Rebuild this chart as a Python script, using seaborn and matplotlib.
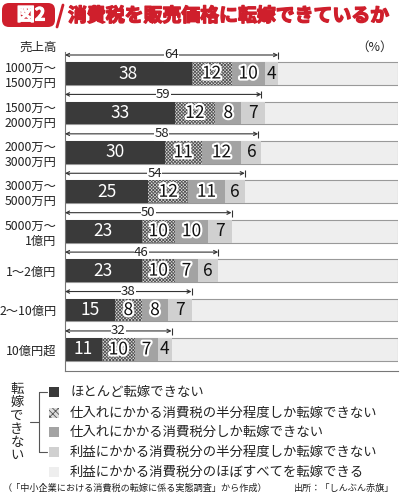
import numpy as np
import pandas as pd
import matplotlib
matplotlib.use('Agg')
import matplotlib.pyplot as plt
import matplotlib.patheffects as pe
from matplotlib.patches import Rectangle, FancyBboxPatch
from matplotlib.lines import Line2D
from matplotlib.transforms import IdentityTransform
import seaborn as sns

sales = ['1000万～\n1500万円', '1500万～\n2000万円', '2000万～\n3000万円',
         '3000万～\n5000万円', '5000万～\n1億円', '1～2億円', '2～10億円', '10億円超']
almost_none = [38, 33, 30, 25, 23, 23, 15, 11]
half_purchase = [12, 12, 11, 12, 10, 10, 8, 10]
purchase_only = [10, 8, 12, 11, 10, 7, 8, 7]
half_profit = [4, 7, 6, 6, 7, 6, 7, 4]
all_passed = [36, 40, 41, 46, 50, 54, 62, 68]
cannot_total = [64, 59, 58, 54, 50, 46, 38, 32]
legend_labels = ['ほとんど転嫁できない',
                 '仕入れにかかる消費税の半分程度しか転嫁できない',
                 '仕入れにかかる消費税分しか転嫁できない',
                 '利益にかかる消費税分の半分程度しか転嫁できない',
                 '利益にかかる消費税分のほぼすべてを転嫁できる']

colors = ['#3a3a3a', '#dcdcdc', '#a3a3a3', '#d0d0d0', '#eeeeee']
red = '#cf1f2c'

sns.set_theme(style='white')
plt.rcParams['font.family'] = ['Noto Sans CJK JP', 'DejaVu Sans']
plt.rcParams['hatch.linewidth'] = 0.6

W, H = 400, 503
fig = plt.figure(figsize=(W / 100, H / 100), dpi=100)
ax = fig.add_axes([65 / W, 1 - 371 / H, 333 / W, 319 / H])

layers = np.array([almost_none, half_purchase, purchase_only, half_profit, all_passed])
cum = np.cumsum(layers, axis=0)
df = pd.DataFrame({'sales': sales})
for k in range(4, -1, -1):
    df['cum'] = cum[k]
    sns.barplot(data=df, x='cum', y='sales', orient='h', color=colors[k],
                saturation=1, width=0.58, ax=ax,
                edgecolor='#999999' if k == 4 else colors[k],
                linewidth=0.8 if k == 4 else 0)
    if k == 1:
        for p in ax.containers[-1]:
            p.set_hatch('xxxxxxxxxx')
            p.set_edgecolor('#555555')
            p.set_linewidth(0)

# values inside segments
for k in range(4):
    for i, v in enumerate(layers[k]):
        x = cum[k][i] - v / 2
        if k == 0:
            ax.text(x, i, str(v), ha='center', va='center', color='white', fontsize=12.5)
        else:
            t = ax.text(x, i, str(v), ha='center', va='center', color='#111111', fontsize=12.5)
            if k in (1, 2):
                t.set_path_effects([pe.withStroke(linewidth=3, foreground='white')])

# total brackets above bars
for i, tot in enumerate(cannot_total):
    yb = i - 0.47
    ax.annotate('', xy=(0, yb), xytext=(tot, yb),
                arrowprops=dict(arrowstyle='<->', lw=0.8, color='#333333',
                                shrinkA=0, shrinkB=0, mutation_scale=6))
    ax.vlines([tot], yb - 0.08, yb + 0.1, color='#333333', lw=0.8)
    ax.text(tot / 2, yb, str(tot), ha='center', va='center', fontsize=9.5,
            color='#222222', bbox=dict(facecolor='white', edgecolor='none', pad=0.2))

ax.set_xlim(0, 100)
ax.set_ylim(7.546, -0.546)
ax.set_xticks([])
ax.set_xlabel('')
ax.set_ylabel('')
ax.tick_params(axis='y', length=0, pad=6, labelsize=8.8, colors='#222222')
for s in ['top', 'right']:
    ax.spines[s].set_visible(False)
for s in ['left', 'bottom']:
    ax.spines[s].set_color('#777777')
    ax.spines[s].set_linewidth(0.8)

fig.text(57 / W, 1 - 47 / H, '売上高', ha='right', va='center', fontsize=9)
fig.text(393 / W, 1 - 47 / H, '（%）', ha='right', va='center', fontsize=9)

# title banner
px = IdentityTransform()
fig.add_artist(FancyBboxPatch((2, H - 27), 53, 24, boxstyle='round,pad=0,rounding_size=7',
                              transform=px, facecolor=red, edgecolor='none'))
fig.text(31 / W, 1 - 15 / H, '図2', ha='center', va='center', color='white',
         fontsize=13, weight='bold',
         path_effects=[pe.withStroke(linewidth=0.8, foreground='white')])
fig.add_artist(Line2D([57, 63], [H - 27, H - 5], transform=px, color=red, lw=2))
fig.text(68 / W, 1 - 16 / H, '消費税を販売価格に転嫁できているか', ha='left', va='center',
         color=red, fontsize=13.6, weight='bold',
         path_effects=[pe.withStroke(linewidth=1.0, foreground=red)])

# legend
rows = [392, 413, 432, 452, 472]
for k, (yy, lab) in enumerate(zip(rows, legend_labels)):
    r = Rectangle((49, H - yy - 5), 10, 10, transform=px, facecolor=colors[k],
                  edgecolor='#555555' if k == 1 else 'none', lw=0)
    if k == 1:
        r.set_hatch('\\\\\\\\xx')
    fig.add_artist(r)
    fig.text(70 / W, 1 - yy / H, lab, ha='left', va='center', fontsize=9.6, color='#222222')

for xs, ys in [([39, 39], [392, 452]), ([39, 47], [392, 392]), ([39, 47], [452, 452]),
               ([30, 39], [422, 422])]:
    fig.add_artist(Line2D(xs, [H - y for y in ys], transform=px, color='#555555', lw=0.8))
fig.text(17 / W, 1 - 422 / H, '\n'.join('転嫁できない'), ha='center', va='center',
         fontsize=9.6, linespacing=0.92, color='#222222')

fig.text(3 / W, 1 - 488 / H, '（「中小企業における消費税の転嫁に係る実態調査」から作成）',
         ha='left', va='center', fontsize=6.6, color='#222222')
fig.text(394 / W, 1 - 488 / H, '出所：「しんぶん赤旗」', ha='right', va='center',
         fontsize=6.6, color='#222222')

fig.savefig('out.png', dpi=100)
